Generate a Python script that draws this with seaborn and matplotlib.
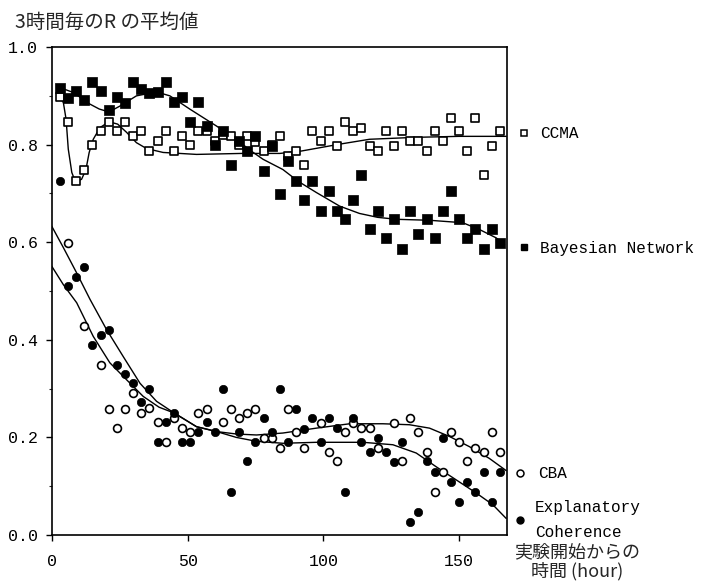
import numpy as np
import pandas as pd
import seaborn as sns
import matplotlib.pyplot as plt

nan = np.nan

# hours since start (3-hour bins)
hours = [3, 6, 9, 12, 15, 18, 21, 24, 27, 30,
         33, 36, 39, 42, 45, 48, 51, 54, 57, 60,
         63, 66, 69, 72, 75, 78, 81, 84, 87, 90,
         93, 96, 99, 102, 105, 108, 111, 114, 117, 120,
         123, 126, 129, 132, 135, 138, 141, 144, 147, 150,
         153, 156, 159, 162, 165]

ccma = [0.897, 0.847, 0.725, 0.749, 0.799, 0.827, 0.847, 0.827, 0.847, 0.818,
        0.827, 0.787, 0.808, 0.827, 0.787, 0.818, 0.799, 0.827, 0.827, 0.808,
        0.820, 0.818, 0.799, 0.818, 0.805, 0.787, 0.800, 0.818, 0.777, 0.787,
        0.758, 0.827, 0.808, 0.827, 0.797, 0.847, 0.827, 0.835, 0.797, 0.787,
        0.827, 0.797, 0.827, 0.808, 0.808, 0.787, 0.827, 0.808, 0.854, 0.827,
        0.787, 0.854, 0.737, 0.797, 0.827]

bayes = [0.917, 0.895, 0.910, 0.891, 0.929, 0.910, 0.871, 0.898, 0.885, 0.928,
         0.915, 0.905, 0.908, 0.928, 0.888, 0.897, 0.847, 0.888, 0.838, 0.799,
         0.828, 0.758, 0.808, 0.787, 0.817, 0.746, 0.797, 0.698, 0.767, 0.725,
         0.686, 0.725, 0.665, 0.705, 0.665, 0.648, 0.686, 0.737, 0.628, 0.665,
         0.608, 0.648, 0.587, 0.665, 0.617, 0.648, 0.608, 0.665, 0.705, 0.648,
         0.608, 0.628, 0.587, 0.628, 0.598]

cba = [nan, 0.599, nan, 0.428, nan, 0.349, 0.259, 0.220, 0.259, 0.291,
       0.250, 0.260, 0.231, 0.190, 0.240, 0.220, 0.211, 0.250, 0.259, nan,
       0.231, 0.259, 0.240, 0.250, 0.259, 0.199, 0.199, 0.178, 0.259, 0.211,
       0.178, nan, 0.229, 0.170, 0.151, 0.211, 0.229, 0.219, 0.219, 0.178,
       nan, 0.229, 0.151, 0.240, 0.211, 0.170, 0.089, 0.129, 0.211, 0.190,
       0.151, 0.178, 0.170, 0.211, 0.170]

ec = [0.725, 0.510, 0.529, 0.549, 0.389, 0.409, 0.421, 0.348, 0.330, 0.311,
      0.272, 0.300, 0.190, 0.231, 0.250, 0.190, 0.190, 0.211, 0.231, 0.211,
      0.300, 0.089, 0.211, 0.151, 0.190, 0.240, 0.211, 0.299, 0.190, 0.259,
      0.217, 0.240, 0.190, 0.240, 0.219, 0.089, 0.240, 0.190, 0.170, 0.199,
      0.170, 0.149, 0.190, 0.027, 0.048, 0.151, 0.129, 0.199, 0.109, 0.068,
      0.109, 0.089, 0.129, 0.068, 0.129]

# fitted curves
ccma_fit_x = [3, 4.3, 5.3, 6.1, 7.4, 8.3, 9.2, 11, 12.6, 13.8, 15.3, 17.8, 21.1,
              24.3, 27.6, 31.2, 34.9, 41, 53.3, 70, 84, 92, 106, 117, 134, 150, 167.3]
ccma_fit_y = [0.897, 0.886, 0.852, 0.791, 0.743, 0.730, 0.725, 0.729, 0.749, 0.784,
              0.811, 0.835, 0.847, 0.842, 0.825, 0.804, 0.792, 0.784, 0.780, 0.782,
              0.782, 0.787, 0.801, 0.811, 0.815, 0.817, 0.817]

bayes_fit_x = [3, 7.9, 14.1, 17.5, 21.1, 25.1, 31.2, 38.6, 43.5, 50.8, 60.7, 68,
               72.9, 77.8, 85.1, 90.7, 97.4, 106, 113.3, 120, 127, 139.1, 151.3,
               157.5, 163.6, 166.7]
bayes_fit_y = [0.917, 0.907, 0.883, 0.873, 0.867, 0.879, 0.900, 0.908, 0.900, 0.873,
               0.838, 0.811, 0.789, 0.770, 0.749, 0.725, 0.702, 0.674, 0.659, 0.651,
               0.647, 0.645, 0.640, 0.626, 0.609, 0.595]

cba_fit_x = [0, 4.3, 9.2, 14.1, 20.2, 26.3, 32.5, 38.6, 45.1, 53.3, 60.7, 68, 75.4,
             85.1, 97.4, 109.7, 121.9, 131.7, 139.1, 146.4, 153.8, 161.1, 167.3]
cba_fit_y = [0.633, 0.589, 0.537, 0.483, 0.421, 0.366, 0.311, 0.274, 0.250, 0.222,
             0.212, 0.207, 0.205, 0.209, 0.219, 0.228, 0.228, 0.226, 0.219, 0.202,
             0.181, 0.157, 0.132]

ec_fit_x = [0, 4.3, 9.2, 15.3, 21.4, 27.6, 33.7, 39.5, 45.1, 53.3, 60.7, 68, 75.4,
            85.1, 97.4, 114.6, 125.6, 134.2, 141.5, 148.9, 156.3, 162.4, 167.3]
ec_fit_y = [0.551, 0.513, 0.476, 0.407, 0.353, 0.318, 0.284, 0.262, 0.250, 0.222,
            0.212, 0.200, 0.192, 0.188, 0.190, 0.190, 0.185, 0.168, 0.140, 0.113,
            0.086, 0.062, 0.034]

sns.set_style("ticks")
plt.rcParams['font.family'] = ['Liberation Mono', 'Noto Sans CJK JP', 'DejaVu Sans']
cjk = ['Noto Sans CJK JP', 'DejaVu Sans']

fig = plt.figure(figsize=(7.15, 5.83), dpi=100)
ax = fig.add_axes([0.0723, 0.0823, 0.6364, 0.837])

# smooth curves
for fx, fy in [(ccma_fit_x, ccma_fit_y), (bayes_fit_x, bayes_fit_y),
               (cba_fit_x, cba_fit_y), (ec_fit_x, ec_fit_y)]:
    sns.lineplot(x=fx, y=fy, ax=ax, color='black', linewidth=1.0,
                 sort=False, estimator=None, zorder=2)

# points
sns.scatterplot(x=hours, y=ccma, ax=ax, marker='s', color='white',
                edgecolor='black', linewidth=1.2, s=38, zorder=3)
sns.scatterplot(x=hours, y=bayes, ax=ax, marker='s', color='black',
                edgecolor='black', linewidth=0.5, s=42, zorder=4)
sns.scatterplot(x=hours, y=cba, ax=ax, marker='o', color='white',
                edgecolor='black', linewidth=1.2, s=32, zorder=3)
sns.scatterplot(x=hours, y=ec, ax=ax, marker='o', color='black',
                edgecolor='black', linewidth=0.5, s=36, zorder=4)

ax.set_xlim(0, 167.5)
ax.set_ylim(0, 1.0)
ax.set_xticks([0, 50, 100, 150])
ax.set_yticks([0.0, 0.2, 0.4, 0.6, 0.8, 1.0])
ax.set_yticklabels(['0.0', '0.2', '0.4', '0.6', '0.8', '1.0'])
ax.set_yticks([0.1, 0.3, 0.5, 0.7, 0.9], minor=True)
ax.tick_params(axis='both', which='major', direction='out', length=4,
               width=1.0, labelsize=12, color='black', labelcolor='black')
ax.tick_params(axis='y', which='major', pad=6)
ax.tick_params(axis='x', which='major', pad=10)
ax.tick_params(axis='y', which='minor', direction='out', length=2.5, width=0.8)
for sp in ax.spines.values():
    sp.set_visible(True)
    sp.set_color('black')
    sp.set_linewidth(1.2)
ax.set_xlabel('')
ax.set_ylabel('')

# direct labels on the right
lab = dict(transform=ax.transAxes, fontsize=11.5, va='center', ha='left',
           color='black')
ax.plot([1.038], [0.823], marker='s', ms=5, mfc='white', mec='black', mew=1.1,
        transform=ax.transAxes, clip_on=False)
ax.text(1.073, 0.823, 'CCMA', **lab)
ax.plot([1.038], [0.591], marker='s', ms=5, mfc='black', mec='black',
        transform=ax.transAxes, clip_on=False)
ax.text(1.073, 0.588, 'Bayesian Network', **lab)
ax.plot([1.029], [0.128], marker='o', ms=5, mfc='white', mec='black', mew=1.1,
        transform=ax.transAxes, clip_on=False)
ax.text(1.069, 0.127, 'CBA', **lab)
ax.text(1.062, 0.057, 'Explanatory', **lab)
ax.plot([1.029], [0.031], marker='o', ms=5, mfc='black', mec='black',
        transform=ax.transAxes, clip_on=False)
ax.text(1.062, 0.005, 'Coherence', **lab)

# axis captions
ax.text(1.154, -0.036, '実験開始からの', transform=ax.transAxes, ha='center',
        va='center', fontsize=13, family=cjk)
ax.text(1.154, -0.075, '時間 (hour)', transform=ax.transAxes, ha='center',
        va='center', fontsize=13, family=cjk)
fig.text(0.021, 0.962, '3時間毎のR の平均値', ha='left', va='center',
         fontsize=14, family=cjk)

fig.savefig('out.png', dpi=100)
